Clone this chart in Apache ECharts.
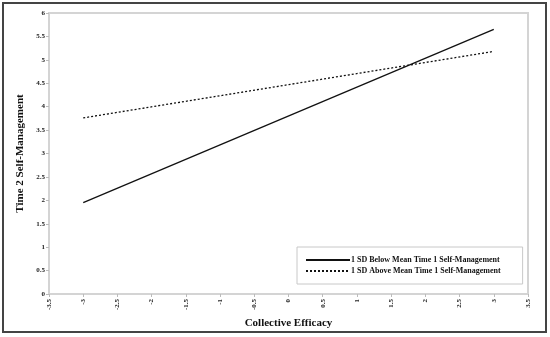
<!DOCTYPE html>
<html><head><meta charset="utf-8">
<script src="https://cdn.jsdelivr.net/npm/echarts@6/dist/echarts.min.js"></script>
<style>html,body{margin:0;padding:0;background:#fff}#c{width:550px;height:337px}</style>
</head><body><div id="c"></div>
<script>
var xValues = [-3, 3];
var belowMean = [1.95, 5.65];
var aboveMean = [3.76, 5.18];
var seriesNames = ['1 SD Below Mean Time 1 Self-Management', '1 SD Above Mean Time 1 Self-Management'];
var xTitle = 'Collective Efficacy';
var yTitle = 'Time 2 Self-Management';

var font = 'Liberation Serif';
var chart = echarts.init(document.getElementById('c'), null, {renderer: 'canvas'});
function pairs(xs, ys){ return xs.map(function(x,i){return [x, ys[i]];}); }
chart.setOption({
  animation: false,
  backgroundColor: '#fff',
  graphic: [{
    type: 'rect', shape: {x: 3, y: 3, width: 543, height: 329},
    style: {fill: 'none', stroke: '#444', lineWidth: 2}, z: 100
  }],
  grid: {left: 49, right: 22, top: 13, bottom: 43, show: true, borderColor: '#d4d4d4', borderWidth: 2},
  xAxis: {
    type: 'value', min: -3.5, max: 3.5, interval: 0.5,
    name: xTitle, nameLocation: 'middle', nameGap: 20,
    nameTextStyle: {fontFamily: font, fontWeight: 'bold', fontSize: 11, color: '#111'},
    axisLine: {show: true, onZero: false, lineStyle: {color: '#d4d4d4', width: 2}},
    axisTick: {show: true, length: 3, lineStyle: {color: '#bbb'}},
    splitLine: {show: false},
    axisLabel: {rotate: 90, fontFamily: font, fontWeight: 'bold', fontSize: 7, color: '#222', margin: 5}
  },
  yAxis: {
    type: 'value', min: 0, max: 6, interval: 0.5,
    name: yTitle, nameLocation: 'middle', nameGap: 18,
    nameTextStyle: {fontFamily: font, fontWeight: 'bold', fontSize: 11, color: '#111'},
    axisLine: {show: true, onZero: false, lineStyle: {color: '#d4d4d4', width: 2}},
    axisTick: {show: true, length: 3, lineStyle: {color: '#bbb'}},
    splitLine: {show: false},
    axisLabel: {fontFamily: font, fontWeight: 'bold', fontSize: 7, color: '#222', margin: 4}
  },
  legend: {
    orient: 'vertical', left: 297, top: 247,
    padding: [9, 22, 9, 8], itemGap: 3, itemWidth: 44, itemHeight: 8,
    backgroundColor: '#fff', borderColor: '#c8c8c8', borderWidth: 1,
    itemStyle: {opacity: 0},
    textStyle: {fontFamily: font, fontWeight: 'bold', fontSize: 8, color: '#111', padding: [0,0,0,-4]},
    data: seriesNames.map(function(n){return {name: n};})
  },
  series: [
    {name: seriesNames[0], type: 'line', data: pairs(xValues, belowMean), symbol: 'none',
     lineStyle: {color: '#111', width: 1.3, type: 'solid'}, itemStyle: {color: '#111'}},
    {name: seriesNames[1], type: 'line', data: pairs(xValues, aboveMean), symbol: 'none',
     lineStyle: {color: '#111', width: 1.3, type: [2, 2]}, itemStyle: {color: '#111'}}
  ]
});
</script>
</body></html>
